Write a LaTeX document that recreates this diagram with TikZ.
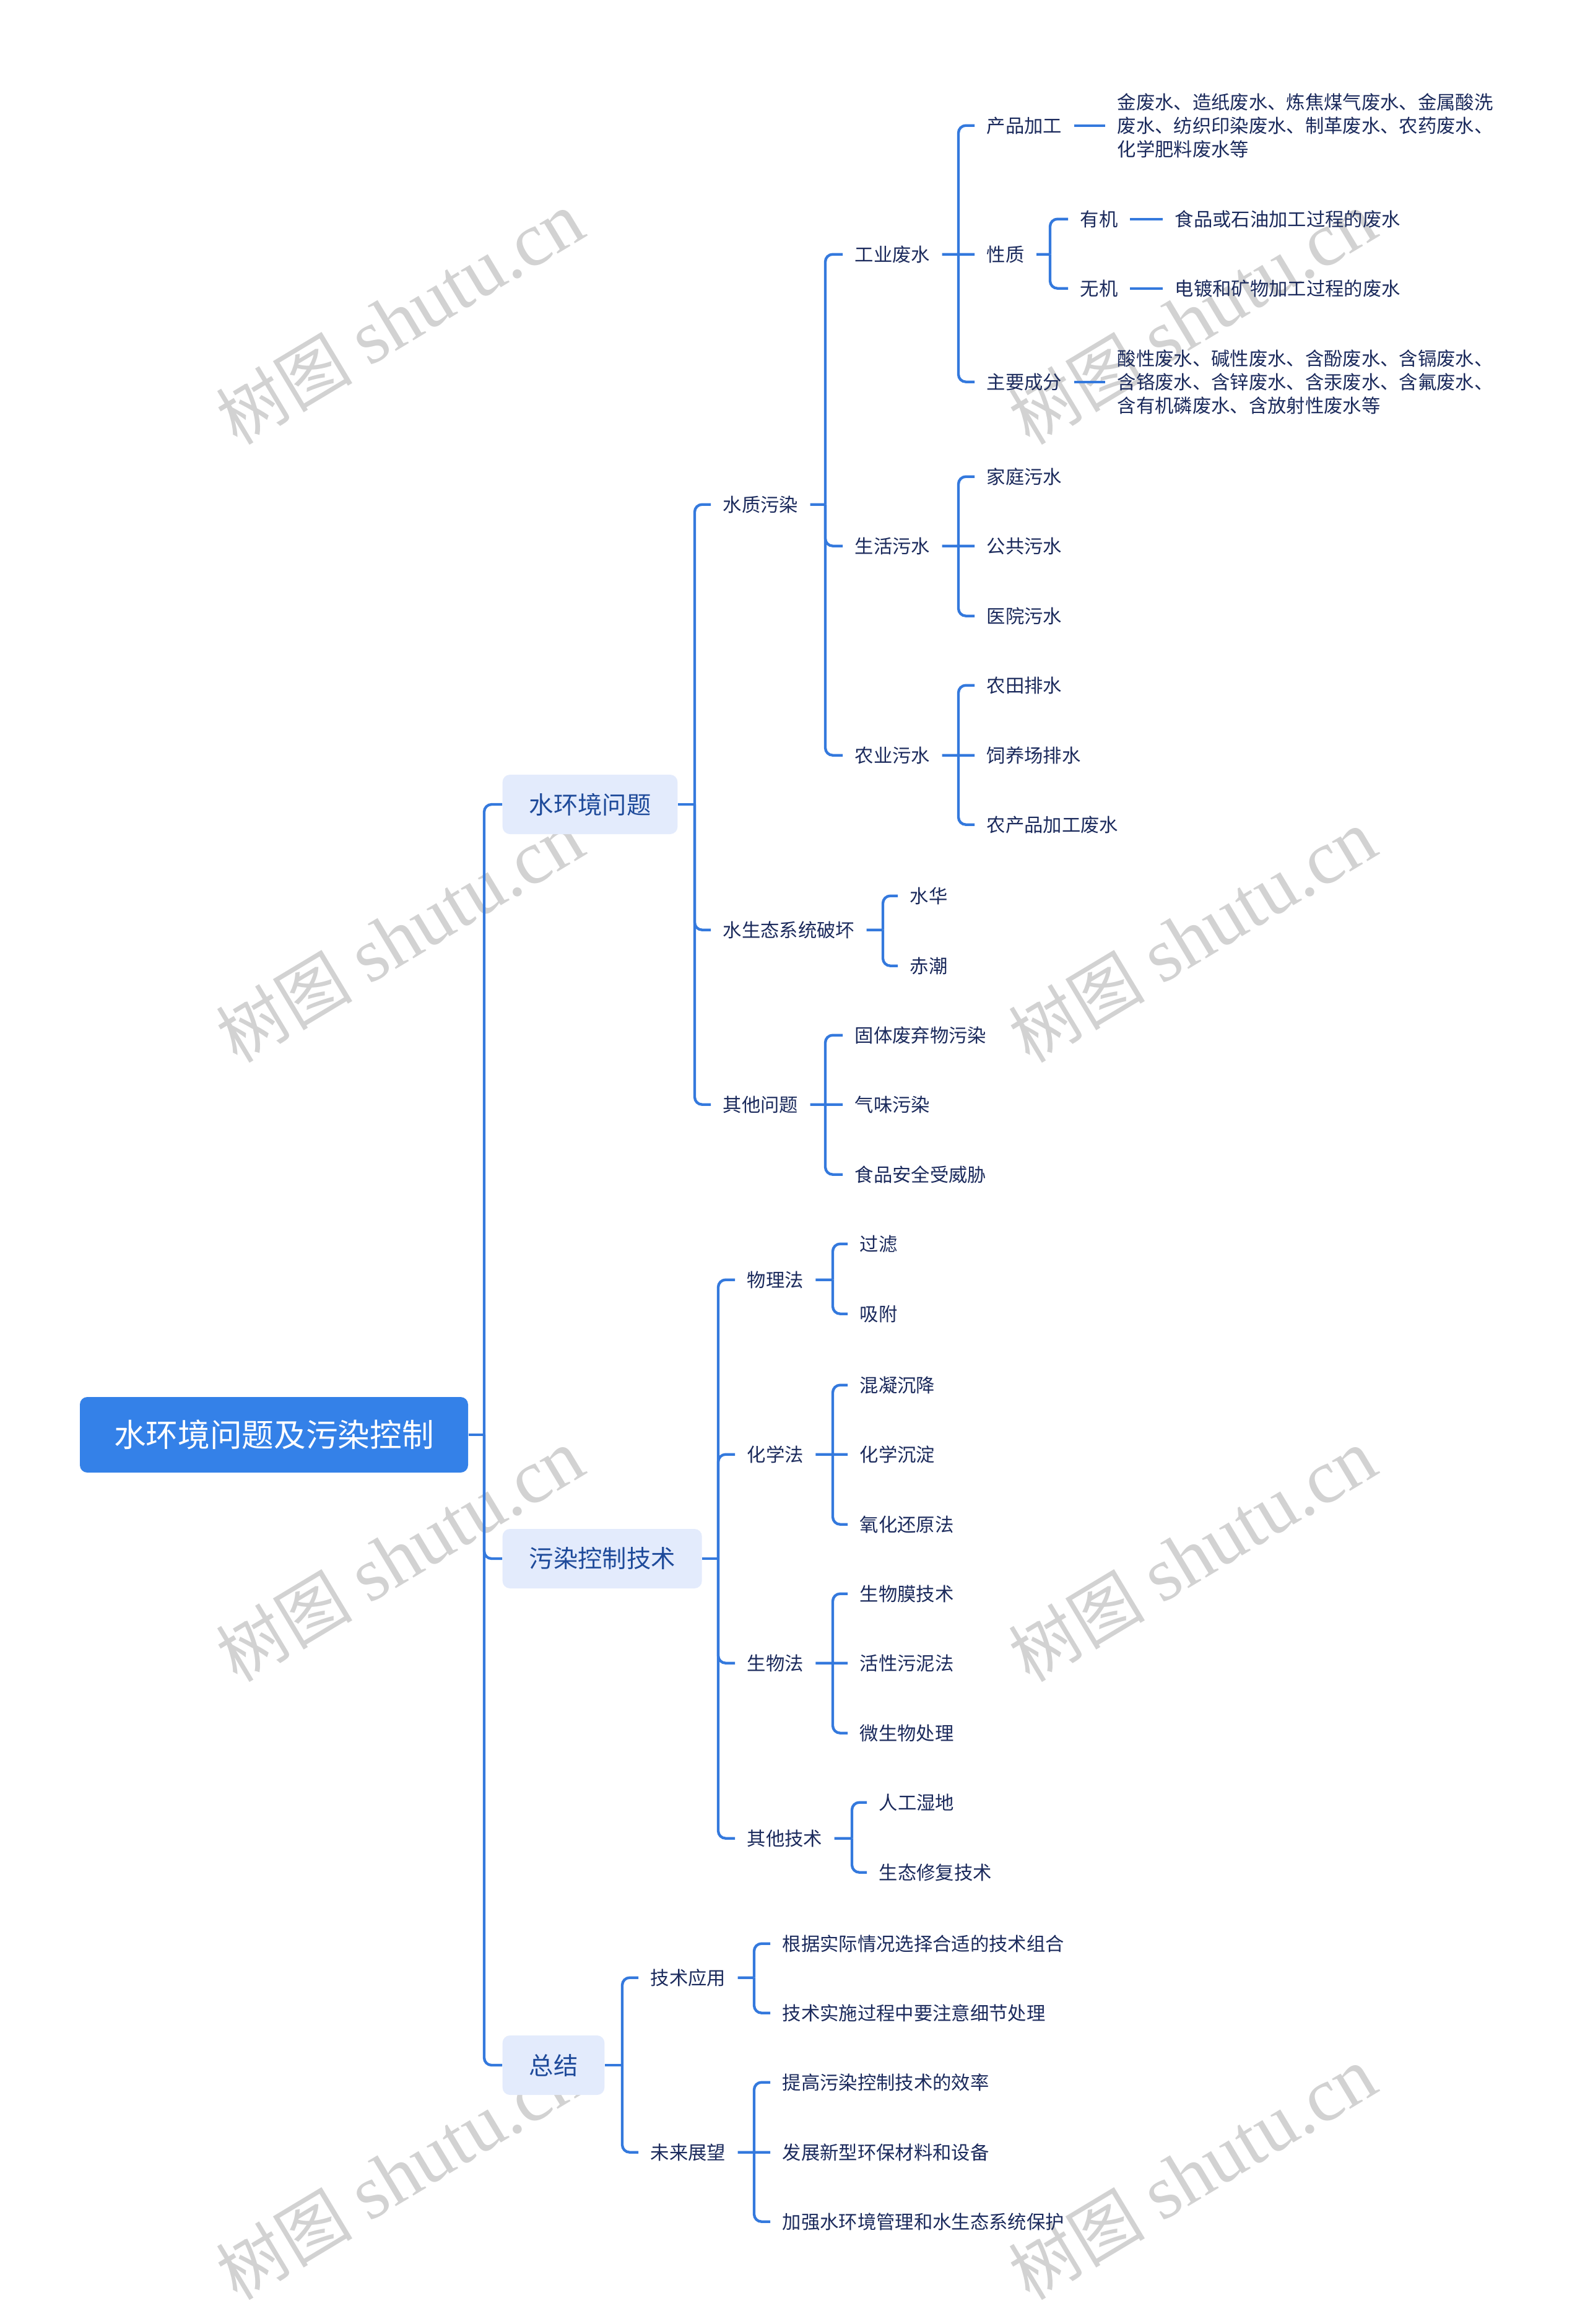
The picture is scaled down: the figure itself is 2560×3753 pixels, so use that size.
\documentclass[tikz,border=0pt]{standalone}
\usepackage{fontspec}
\setmainfont{Noto Sans CJK SC}
\newfontfamily\wmserif{Liberation Serif}
\definecolor{lineblue}{HTML}{3479DD}
\definecolor{rootfill}{HTML}{3481E8}
\definecolor{boxfill}{HTML}{E3EBFC}
\definecolor{boxtext}{HTML}{1E4A9A}
\definecolor{txtcol}{HTML}{1B2A5C}
\definecolor{wmcol}{HTML}{D2D2D2}
\tikzset{
  conn/.style={draw=lineblue, line width=1.3pt, rounded corners=3.6pt},
  rootbox/.style={fill=rootfill, text=white, rounded corners=3.6pt, minimum width=188.1pt, minimum height=36.6pt, inner xsep=0pt, font=\fontsize{15.5pt}{18pt}\selectfont},
  topicbox/.style={fill=boxfill, text=boxtext, rounded corners=3.6pt, anchor=west, inner xsep=12.9pt, minimum height=28.8pt, font=\fontsize{11.8pt}{14pt}\selectfont},
  leaf/.style={anchor=west, text=txtcol, inner xsep=5.7pt, inner ysep=2pt, yshift=-0.5pt, font=\fontsize{9.1pt}{11.4pt}\selectfont},
  leafblock/.style={leaf, align=left},
  wmark/.style={text=wmcol, rotate=31, font=\fontsize{37pt}{37pt}\selectfont}
}
\begin{document}
\begin{tikzpicture}[x=0.3pt, y=-0.3pt]
\useasboundingbox (0,0) rectangle (2560,3753);
\fill[white] (0,0) rectangle (2560,3753);

% watermarks
\foreach \wx/\wy in {646/514, 1926/514, 646/1512, 1926/1512, 646/2512, 1926/2512, 646/3510, 1926/3510}
  \node[wmark] at (\wx,\wy) {{\fontsize{33pt}{33pt}\selectfont 树图} {\wmserif shutu.cn}};

% root and topics
\node[rootbox] (root) at (442.5,2317) {水环境问题及污染控制};
\node[topicbox] (b1) at (811,1299) {水环境问题};
\node[topicbox] (b2) at (811,2517) {污染控制技术};
\node[topicbox] (b3) at (811,3335) {总结};

% level 2 under b1
\node[leaf] (q1) at (1148,813) {水质污染};
\node[leaf] (q2) at (1148,1500) {水生态系统破坏};
\node[leaf] (q3) at (1148,1782) {其他问题};

\node[leaf] (r1) at (1361,409) {工业废水};
\node[leaf] (r2) at (1361,880) {生活污水};
\node[leaf] (r3) at (1361,1218) {农业污水};

\node[leaf] (s1) at (1574,201) {产品加工};
\node[leaf] (s2) at (1574,409) {性质};
\node[leaf] (s3) at (1574,615) {主要成分};
\node[leafblock] (p1) at (1785,201) {金废水、造纸废水、炼焦煤气废水、金属酸洗\\废水、纺织印染废水、制革废水、农药废水、\\化学肥料废水等};
\node[leafblock] (p2) at (1785,615) {酸性废水、碱性废水、含酚废水、含镉废水、\\含铬废水、含锌废水、含汞废水、含氟废水、\\含有机磷废水、含放射性废水等};
\node[leaf] (u1) at (1725,352) {有机};
\node[leaf] (u2) at (1725,464) {无机};
\node[leaf] (v1) at (1878,352) {食品或石油加工过程的废水};
\node[leaf] (v2) at (1878,464) {电镀和矿物加工过程的废水};

\node[leaf] (h1) at (1574,768) {家庭污水};
\node[leaf] (h2) at (1574,880) {公共污水};
\node[leaf] (h3) at (1574,993) {医院污水};
\node[leaf] (g1) at (1574,1105) {农田排水};
\node[leaf] (g2) at (1574,1218) {饲养场排水};
\node[leaf] (g3) at (1574,1330) {农产品加工废水};

\node[leaf] (e1) at (1450,1445) {水华};
\node[leaf] (e2) at (1450,1558) {赤潮};

\node[leaf] (o1) at (1361,1670) {固体废弃物污染};
\node[leaf] (o2) at (1361,1782) {气味污染};
\node[leaf] (o3) at (1361,1895) {食品安全受威胁};

% level 2 under b2
\node[leaf] (w1) at (1187,2065) {物理法};
\node[leaf] (w2) at (1187,2347) {化学法};
\node[leaf] (w3) at (1187,2684) {生物法};
\node[leaf] (w4) at (1187,2967) {其他技术};
\node[leaf] (k1) at (1369,2007) {过滤};
\node[leaf] (k2) at (1369,2120) {吸附};
\node[leaf] (k3) at (1369,2235) {混凝沉降};
\node[leaf] (k4) at (1369,2347) {化学沉淀};
\node[leaf] (k5) at (1369,2460) {氧化还原法};
\node[leaf] (k6) at (1369,2572) {生物膜技术};
\node[leaf] (k7) at (1369,2684) {活性污泥法};
\node[leaf] (k8) at (1369,2797) {微生物处理};
\node[leaf] (k9) at (1400,2909) {人工湿地};
\node[leaf] (k10) at (1400,3022) {生态修复技术};

% level 2 under b3
\node[leaf] (x1) at (1031,3192) {技术应用};
\node[leaf] (x2) at (1031,3474) {未来展望};
\node[leaf] (y1) at (1244,3137) {根据实际情况选择合适的技术组合};
\node[leaf] (y2) at (1244,3249) {技术实施过程中要注意细节处理};
\node[leaf] (y3) at (1244,3361) {提高污染控制技术的效率};
\node[leaf] (y4) at (1244,3474) {发展新型环保材料和设备};
\node[leaf] (y5) at (1244,3586) {加强水环境管理和水生态系统保护};

% trunk coordinates
\coordinate (t0) at (782,2317);
\coordinate (t1) at (1122,1299);
\coordinate (t2) at (1160,2517);
\coordinate (t3) at (1005,3335);
\coordinate (tq1) at (1333,814.7);
\coordinate (tq2) at (1426,1501.7);
\coordinate (tq3) at (1333,1783.7);
\coordinate (tr1) at (1548,410.7);
\coordinate (tr2) at (1548,881.7);
\coordinate (tr3) at (1548,1219.7);
\coordinate (ts2) at (1696,410.7);
\coordinate (tw1) at (1345,2066.7);
\coordinate (tw2) at (1345,2348.7);
\coordinate (tw3) at (1345,2685.7);
\coordinate (tw4) at (1376,2968.7);
\coordinate (tx1) at (1218,3193.7);
\coordinate (tx2) at (1218,3475.7);

% connectors
\draw[conn] (root.east) -- (t0);
\foreach \c in {b1,b2,b3} \draw[conn] (t0) |- (\c.west);

\draw[conn] (b1.east) -- (t1);
\foreach \c in {q1,q2,q3} \draw[conn] (t1) |- (\c.west);
\draw[conn] (q1.east) -- (tq1);
\foreach \c in {r1,r2,r3} \draw[conn] (tq1) |- (\c.west);
\draw[conn] (r1.east) -- (tr1);
\draw[conn] (tr1) |- (s1.west);
\draw[conn] (tr1) -- (s2.west);
\draw[conn] (tr1) |- (s3.west);
\draw[conn] (s1.east) -- (p1.west);
\draw[conn] (s3.east) -- (p2.west);
\draw[conn] (s2.east) -- (ts2);
\foreach \c in {u1,u2} \draw[conn] (ts2) |- (\c.west);
\draw[conn] (u1.east) -- (v1.west);
\draw[conn] (u2.east) -- (v2.west);
\draw[conn] (r2.east) -- (tr2);
\draw[conn] (tr2) |- (h1.west);
\draw[conn] (tr2) -- (h2.west);
\draw[conn] (tr2) |- (h3.west);
\draw[conn] (r3.east) -- (tr3);
\draw[conn] (tr3) |- (g1.west);
\draw[conn] (tr3) -- (g2.west);
\draw[conn] (tr3) |- (g3.west);
\draw[conn] (q2.east) -- (tq2);
\foreach \c in {e1,e2} \draw[conn] (tq2) |- (\c.west);
\draw[conn] (q3.east) -- (tq3);
\draw[conn] (tq3) |- (o1.west);
\draw[conn] (tq3) -- (o2.west);
\draw[conn] (tq3) |- (o3.west);

\draw[conn] (b2.east) -- (t2);
\foreach \c in {w1,w2,w3,w4} \draw[conn] (t2) |- (\c.west);
\draw[conn] (w1.east) -- (tw1);
\foreach \c in {k1,k2} \draw[conn] (tw1) |- (\c.west);
\draw[conn] (w2.east) -- (tw2);
\draw[conn] (tw2) |- (k3.west);
\draw[conn] (tw2) -- (k4.west);
\draw[conn] (tw2) |- (k5.west);
\draw[conn] (w3.east) -- (tw3);
\draw[conn] (tw3) |- (k6.west);
\draw[conn] (tw3) -- (k7.west);
\draw[conn] (tw3) |- (k8.west);
\draw[conn] (w4.east) -- (tw4);
\foreach \c in {k9,k10} \draw[conn] (tw4) |- (\c.west);

\draw[conn] (b3.east) -- (t3);
\foreach \c in {x1,x2} \draw[conn] (t3) |- (\c.west);
\draw[conn] (x1.east) -- (tx1);
\foreach \c in {y1,y2} \draw[conn] (tx1) |- (\c.west);
\draw[conn] (x2.east) -- (tx2);
\draw[conn] (tx2) |- (y3.west);
\draw[conn] (tx2) -- (y4.west);
\draw[conn] (tx2) |- (y5.west);
\end{tikzpicture}
\end{document}
